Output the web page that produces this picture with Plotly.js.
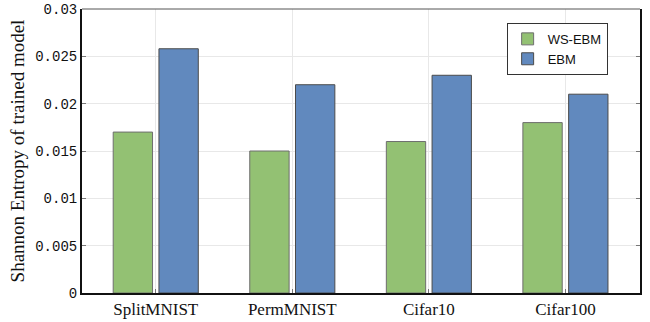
<!DOCTYPE html>
<html>
<head>
<meta charset="utf-8">
<script src="https://cdn.plot.ly/plotly-3.0.1.min.js"></script>
<style>html,body{margin:0;padding:0;background:#fff;}#chart{width:650px;height:322px;}</style>
</head>
<body>
<div id="chart"></div>
<script>
const categories = ["SplitMNIST", "PermMNIST", "Cifar10", "Cifar100"];
const wsEbm = [0.017, 0.015, 0.016, 0.018];
const ebm = [0.0258, 0.022, 0.023, 0.021];
const yTickVals = [0, 0.005, 0.01, 0.015, 0.02, 0.025, 0.03];
const yTickText = ["0", "0.005", "0.01", "0.015", "0.02", "0.025", "0.03"];

const traces = [
  {type: "bar", name: "WS-EBM", x: categories, y: wsEbm,
   marker: {color: "rgb(147,193,115)", line: {color: "rgb(110,110,110)", width: 1}}},
  {type: "bar", name: "EBM", x: categories, y: ebm,
   marker: {color: "rgb(97,137,190)", line: {color: "rgb(75,75,75)", width: 1}}}
];

const layout = {
  width: 650, height: 322,
  margin: {l: 82, r: 10, t: 9, b: 29},
  paper_bgcolor: "#fff", plot_bgcolor: "#fff",
  barmode: "group", bargap: 0.33, bargroupgap: 0.14,
  showlegend: true,
  legend: {x: 0.761, y: 0.951, xanchor: "left", yanchor: "top",
           bgcolor: "#fff", bordercolor: "#333", borderwidth: 1,
           font: {family: "Liberation Sans, Arial, sans-serif", size: 13, color: "#111"}},
  xaxis: {
    type: "category", range: [-0.54, 3.546],
    showline: true, linecolor: "#111", linewidth: 2, mirror: false,
    showgrid: true, gridcolor: "#e8e8e8", gridwidth: 1,
    ticks: "inside", ticklen: 4, tickcolor: "#777",
    tickfont: {family: "Liberation Serif, Times New Roman, serif", size: 17, color: "#111"},
    zeroline: false, fixedrange: true
  },
  yaxis: {
    range: [0, 0.03], tickvals: yTickVals, ticktext: yTickText,
    showline: true, linecolor: "#111", linewidth: 2, mirror: "ticks",
    showgrid: true, gridcolor: "#e8e8e8", gridwidth: 1,
    ticks: "inside", ticklen: 4, tickcolor: "#777",
    tickfont: {family: "Liberation Mono, Courier New, monospace", size: 14, color: "#111"},
    title: {text: "Shannon Entropy of trained model", standoff: 6,
            font: {family: "Liberation Serif, Times New Roman, serif", size: 19, color: "#111"}},
    zeroline: false, fixedrange: true
  },
  shapes: [
    {type: "line", xref: "paper", yref: "paper", x0: 0, x1: 1, y0: 1, y1: 1,
     line: {color: "#555", width: 1}}
  ]
};

Plotly.newPlot("chart", traces, layout, {displayModeBar: false, staticPlot: true});
</script>
</body>
</html>
